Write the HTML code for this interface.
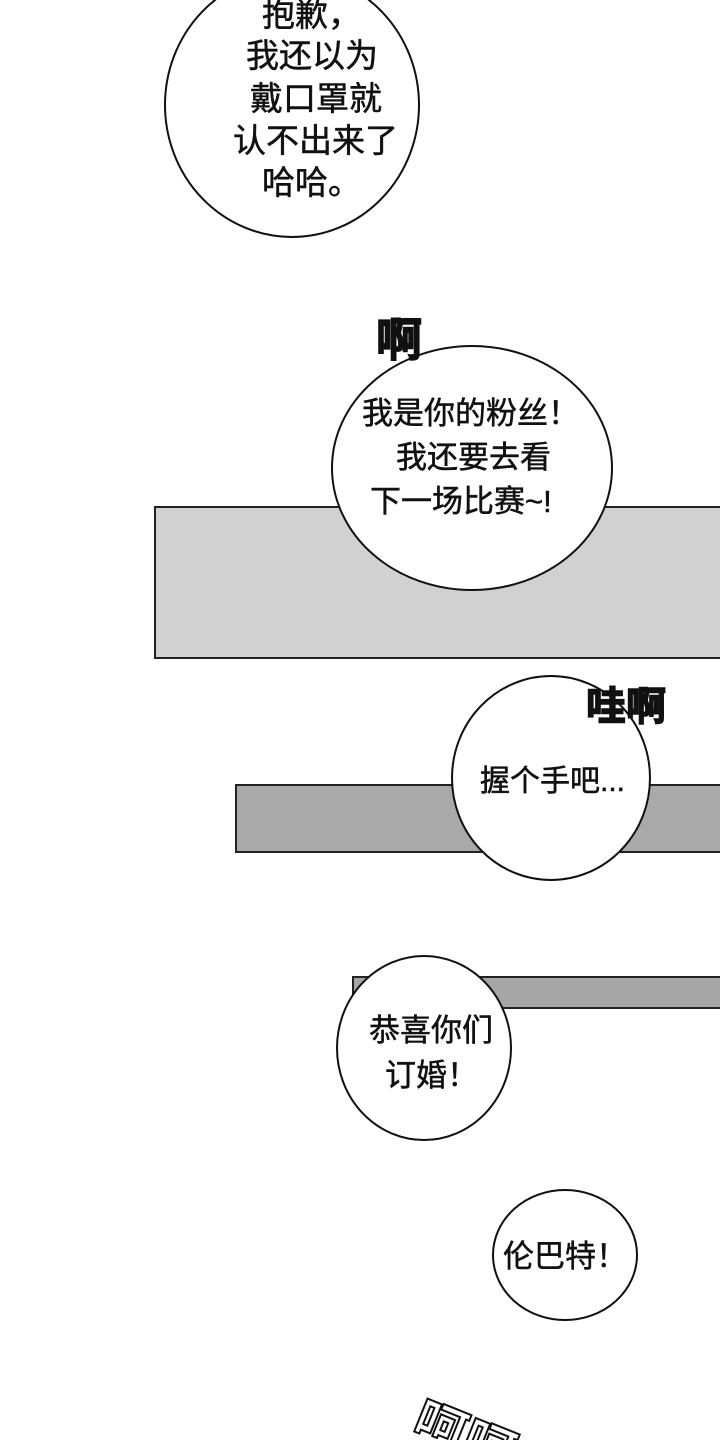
<!DOCTYPE html>
<html><head><meta charset="utf-8"><style>
html,body{margin:0;padding:0;background:#fff;}
svg{display:block;}
text{font-family:"Liberation Sans","Noto Sans CJK SC",sans-serif;fill:#111;}
.t{stroke:#111;stroke-width:0.5;}
</style></head><body>
<svg width="720" height="1440" viewBox="0 0 720 1440" xmlns="http://www.w3.org/2000/svg">
<rect width="720" height="1440" fill="#fff"/>
<rect x="155" y="507" width="570" height="151" fill="#d0d2cf" stroke="#222" stroke-width="2"/>
<rect x="236" y="785" width="490" height="67" fill="#a9aaa8" stroke="#222" stroke-width="2"/>
<rect x="353" y="977" width="372" height="31" fill="#a6a6a6" stroke="#222" stroke-width="2"/>
<!-- bubble 1 -->
<ellipse cx="292" cy="105" rx="127" ry="132" fill="#fff" stroke="#111" stroke-width="2"/>
<g font-size="33" class="t">
<text x="262" y="26">抱歉，</text>
<text x="246" y="67">我还以为</text>
<text x="250" y="110">戴口罩就</text>
<text x="233" y="152">认不出来了</text>
<text x="262" y="194">哈哈。</text>
</g>
<!-- bubble 2 -->
<ellipse cx="472" cy="468" rx="140" ry="122" fill="#fff" stroke="#111" stroke-width="2"/>
<text x="376" y="356" font-size="46" font-weight="bold" stroke="#111" stroke-width="1.5">啊</text>
<g font-size="31" class="t">
<text x="362" y="424">我是你的粉丝！</text>
<text x="396" y="468">我还要去看</text>
<text x="370" y="512">下一场比赛~!</text>
</g>
<!-- bubble 3 -->
<ellipse cx="551" cy="778" rx="99" ry="102" fill="#fff" stroke="#111" stroke-width="2"/>
<text x="586" y="720" font-size="40" font-weight="bold" stroke="#111" stroke-width="1.5">哇啊</text>
<text x="480" y="791" font-size="30" class="t">握个手吧...</text>
<!-- bubble 4 -->
<ellipse cx="424" cy="1048" rx="87" ry="92" fill="#fff" stroke="#111" stroke-width="2"/>
<g font-size="31" class="t">
<text x="369" y="1041">恭喜你们</text>
<text x="385" y="1086">订婚！</text>
</g>
<!-- bubble 5 -->
<ellipse cx="565" cy="1255" rx="72" ry="65" fill="#fff" stroke="#111" stroke-width="2"/>
<text x="503" y="1267" font-size="31" class="t">伦巴特！</text>
<!-- bottom -->
<text x="420" y="1440" font-size="52" font-weight="bold" fill="#fff" stroke="#111" stroke-width="2" style="fill:#fff" transform="rotate(22 430 1410)">呵呵</text>
</svg>
</body></html>
